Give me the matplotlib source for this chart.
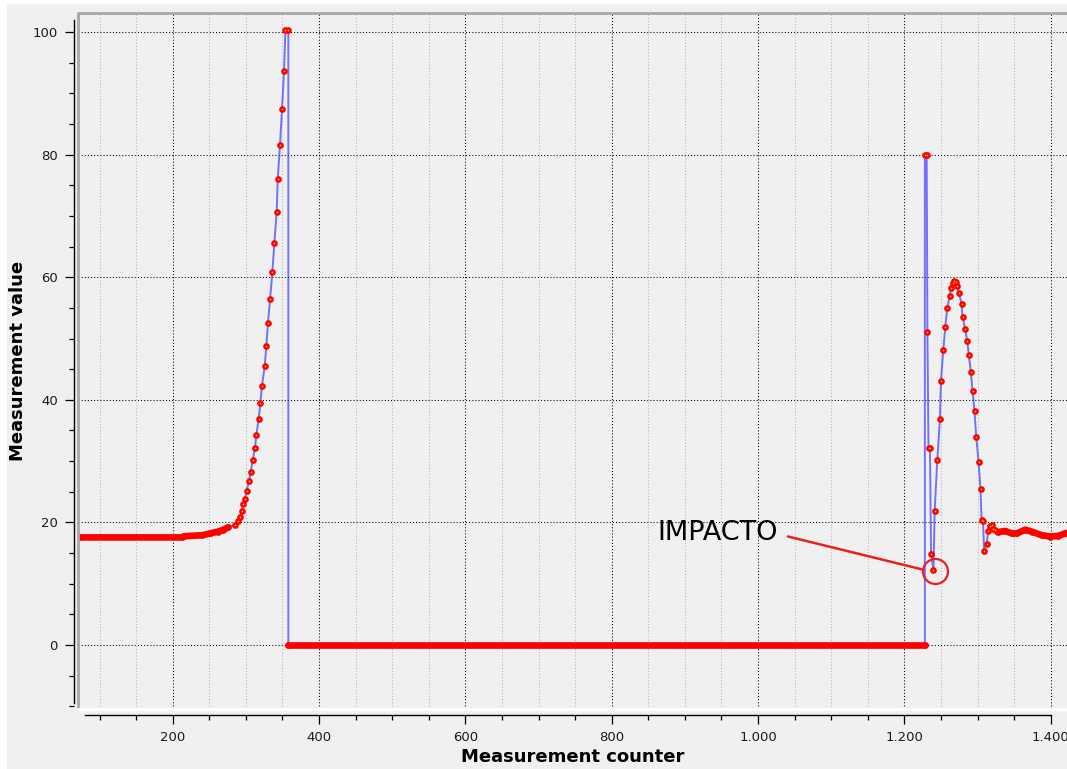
import matplotlib
matplotlib.use("Agg")
import matplotlib.pyplot as plt
from matplotlib.patches import Rectangle
from matplotlib.ticker import MultipleLocator, FuncFormatter

# flat baseline before the first rise (points overlap into a solid band)
pre_x = [72, 212, 216, 240, 251, 262, 269, 276]
pre_y = [17.55, 17.55, 17.75, 17.9, 18.2, 18.5, 18.8, 19.2]

# first rise up to saturation
rise_x = [285.1, 288.8, 292.0, 294.7, 296.5, 298.8, 301.1, 304.3, 306.6, 309.3,
          312.5, 314.3, 317.5, 319.7, 322.0, 325.7, 327.9, 330.2, 333.0, 336.2,
          338.9, 342.1, 343.5, 346.6, 349.4, 352.1, 354.0, 358.0]
rise_y = [19.6, 20.3, 20.9, 21.9, 23.0, 23.8, 25.2, 26.8, 28.3, 30.2,
          32.2, 34.3, 36.9, 39.4, 42.3, 45.5, 48.8, 52.5, 56.4, 60.9,
          65.6, 70.7, 76.0, 81.6, 87.5, 93.7, 100.4, 100.4]

# readings stuck at zero
zero_x = [358, 1228]
zero_y = [0, 0]

# spike, impact and second peak
resp_x = [1228, 1230.5, 1231.5, 1233, 1235, 1236.5, 1239.8, 1241.4, 1245.0, 1248.6,
          1250.0, 1253.2, 1255.9, 1258.6, 1261.8, 1264.1, 1266.0, 1268.0, 1270.0, 1272.3,
          1274.5, 1278.2, 1279.5, 1283.2, 1285.9, 1288.2, 1290.9, 1293.2, 1295.9, 1298.2,
          1301.4, 1304.1, 1305.5, 1307.5, 1309.0, 1312.3, 1314.6, 1317.3, 1319.4, 1321.0,
          1323.9]
resp_y = [80.0, 80.0, 51.0, 32.1, 32.1, 14.8, 12.3, 21.9, 30.1, 36.9,
          43.0, 48.1, 51.9, 54.9, 56.9, 58.2, 59.0, 59.3, 59.2, 58.6,
          57.4, 55.7, 53.5, 51.5, 49.6, 47.3, 44.5, 41.4, 38.1, 34.0,
          29.9, 25.4, 20.4, 20.3, 15.4, 16.4, 18.6, 19.4, 19.5, 18.9,
          18.8]

# settled tail (dense band)
tail_x = [1327.6, 1337.6, 1346.8, 1353.6, 1365.0, 1374.1, 1387.8, 1399.2, 1410.5, 1419.7, 1423]
tail_y = [18.4, 18.6, 18.2, 18.2, 18.8, 18.5, 17.9, 17.7, 17.8, 18.2, 18.3]

impact_x, impact_y = 1241.2, 12.1
label_x, label_y = 863, 18.3

all_x = pre_x + rise_x + zero_x + resp_x + tail_x
all_y = pre_y + rise_y + zero_y + resp_y + tail_y

W, H = 1067, 769
fig = plt.figure(figsize=(W / 100, H / 100), dpi=100, facecolor="white")
fig.add_artist(Rectangle((7 / W, 0), 1, 1 - 4 / H, transform=fig.transFigure,
                         color="#f0f0f0", zorder=-10))

ax = fig.add_axes([78 / W, 1 - 709 / H, (W - 78) / W, (709 - 13) / H])
ax.set_facecolor("#f0f0f0")
ax.set_xlim(70.5, 1422.3)
ax.set_ylim(-10.44, 103.1)

# grid
ax.xaxis.set_major_locator(MultipleLocator(200))
ax.xaxis.set_minor_locator(MultipleLocator(50))
ax.yaxis.set_major_locator(MultipleLocator(20))
ax.yaxis.set_minor_locator(MultipleLocator(5))
ax.grid(which="major", color="black", linestyle=(0, (1, 2)), linewidth=0.75)
ax.grid(which="minor", axis="x", color="#b4b4b4", linestyle=(0, (1, 2)), linewidth=0.75)
ax.set_axisbelow(True)

# series
ax.plot(all_x, all_y, color="#2f2fff", lw=1.4, alpha=0.65, zorder=2)
for bx, by in [(pre_x, pre_y), (zero_x, zero_y), (tail_x, tail_y)]:
    ax.plot(bx, by, color="red", lw=4.8, solid_capstyle="round", zorder=3)
ax.plot(all_x, all_y, linestyle="none", marker="o", ms=4.8, color="red", mew=0, zorder=4)
ax.plot(rise_x + resp_x, rise_y + resp_y, linestyle="none", marker="o", ms=1.2,
        color="#ffd200", mew=0, zorder=5)

# impact annotation
ax.plot([impact_x], [impact_y], marker="o", ms=18, mfc="none", mec="#e82020", mew=1.6, zorder=6)
ax.annotate("IMPACTO", xy=(1223.7, 12.35), xytext=(label_x, label_y),
            fontsize=19.5, color="black", ha="left", va="center",
            arrowprops=dict(arrowstyle="-", color="#e82020", lw=1.8,
                            relpos=(1.0, 0.45), shrinkA=5, shrinkB=0))

# frame of the plot panel
ax.plot([0, 0, 1], [0, 1, 1], transform=ax.transAxes, color="#a8a8a8", lw=2, clip_on=False, zorder=7)
ax.plot([0, 1], [0, 0], transform=ax.transAxes, color="white", lw=2, clip_on=False, zorder=7)
ax.spines["top"].set_visible(False)
ax.spines["right"].set_visible(False)

# detached axes
ax.spines["left"].set_position(("outward", 3))
ax.spines["left"].set_bounds(-9.5, 102)
ax.spines["bottom"].set_position(("outward", 4.5))
ax.spines["bottom"].set_bounds(80, 1400)
for s in ("left", "bottom"):
    ax.spines[s].set_linewidth(1.0)
    ax.spines[s].set_color("black")

ax.tick_params(which="major", direction="out", length=6.5, width=0.9, colors="black",
               labelcolor="#1b1b1b", labelsize=9.5)
ax.tick_params(which="minor", direction="out", length=3.8, width=0.9, colors="black")
ax.tick_params(axis="y", which="major", pad=5)
ax.tick_params(axis="x", which="major", pad=4.5)
ax.xaxis.set_major_formatter(FuncFormatter(lambda v, p: f"{int(v):,}".replace(",", ".")))
ax.yaxis.set_major_formatter(FuncFormatter(lambda v, p: f"{int(v)}"))

ax.set_xlabel("Measurement counter", fontsize=13, fontweight="bold", labelpad=3)
ax.set_ylabel("Measurement value", fontsize=13, fontweight="bold", labelpad=4)

fig.savefig("out.png", dpi=100, facecolor=fig.get_facecolor())
